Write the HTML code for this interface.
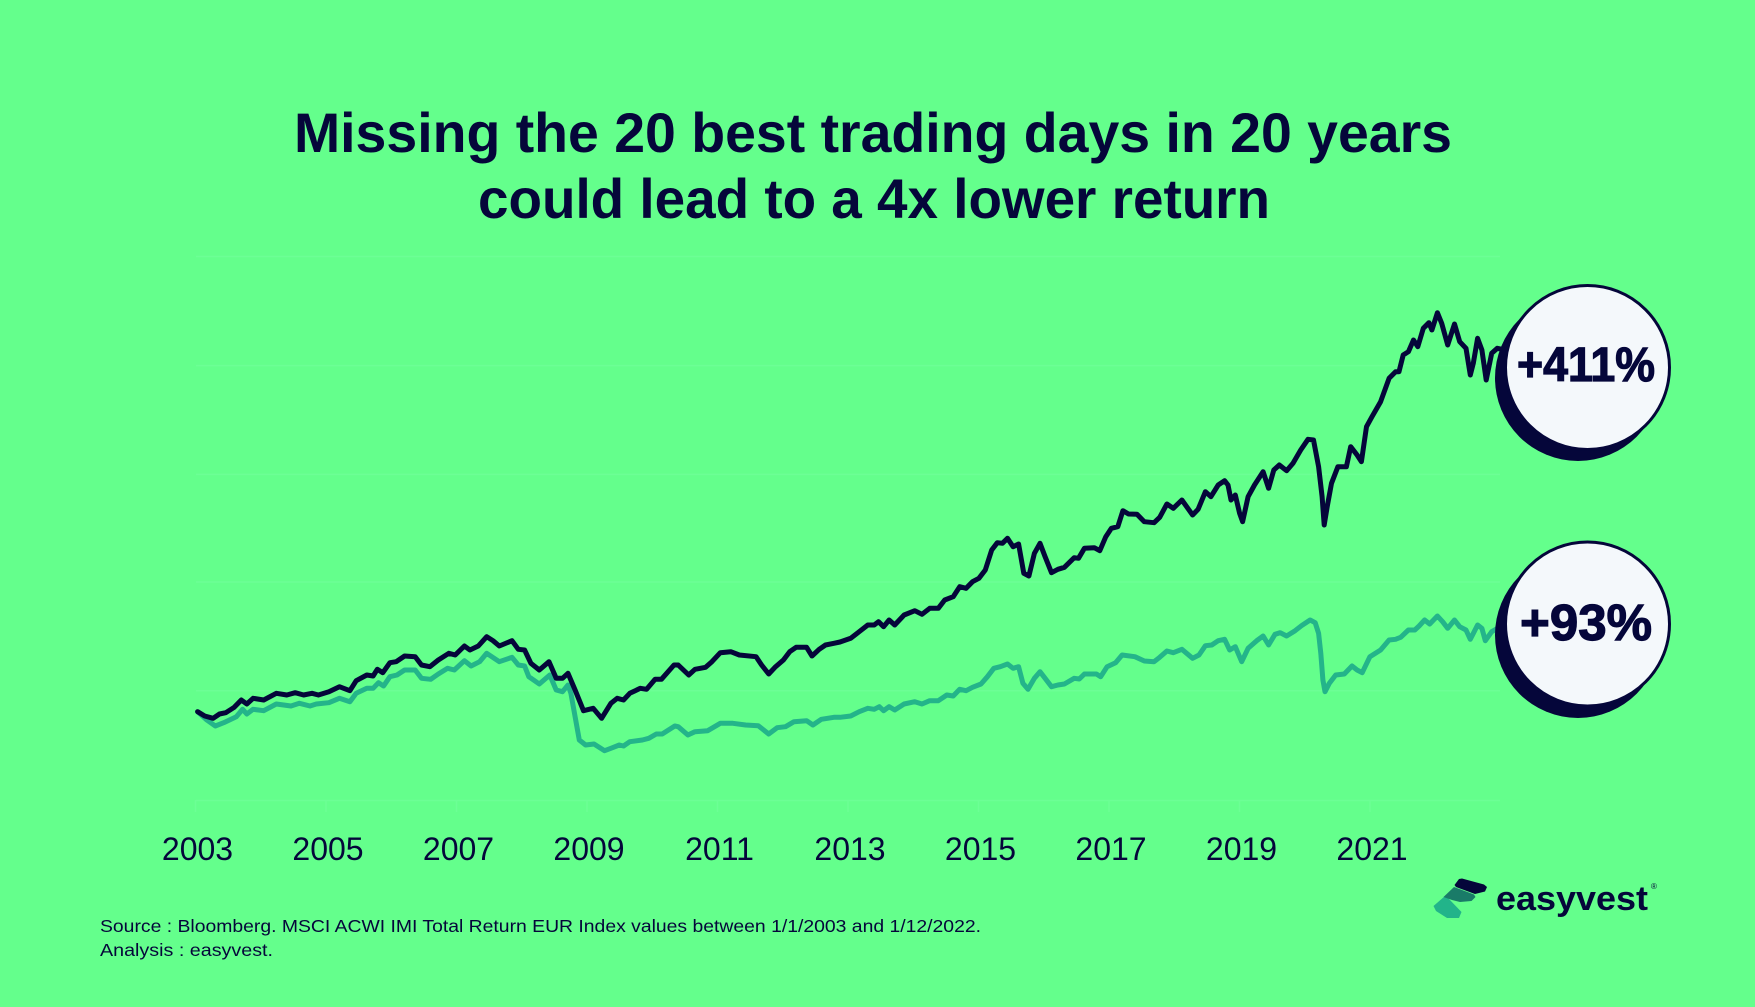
<!DOCTYPE html>
<html>
<head>
<meta charset="utf-8">
<style>
html,body{margin:0;padding:0;background:#64ff8c;}
svg{display:block;}
</style>
</head>
<body>
<svg width="1755" height="1007" viewBox="0 0 1755 1007" xmlns="http://www.w3.org/2000/svg">
<rect x="0" y="0" width="1755" height="1007" fill="#64ff8c"/>

<!-- Title -->
<g font-family="Liberation Sans, Arial, sans-serif" font-weight="bold" fill="#05063a">
<text x="294" y="152" font-size="56" textLength="1158" lengthAdjust="spacingAndGlyphs">Missing the 20 best trading days in 20 years</text>
<text x="478" y="218" font-size="56" textLength="792" lengthAdjust="spacingAndGlyphs">could lead to a 4x lower return</text>
</g>

<!-- Gridlines -->
<g stroke="#6cff95" stroke-width="1.5" fill="none">
<line x1="196" y1="256.5" x2="1500" y2="256.5"/>
<line x1="196" y1="365.6" x2="1500" y2="365.6"/>
<line x1="196" y1="474.4" x2="1500" y2="474.4"/>
<line x1="196" y1="582" x2="1500" y2="582"/>
<line x1="196" y1="690.7" x2="1500" y2="690.7"/>
<line x1="196" y1="800.5" x2="1500" y2="800.5"/>
<line x1="195.5" y1="800" x2="195.5" y2="812"/>
<line x1="326" y1="800" x2="326" y2="812"/>
<line x1="456.5" y1="800" x2="456.5" y2="812"/>
<line x1="587" y1="800" x2="587" y2="812"/>
<line x1="717.5" y1="800" x2="717.5" y2="812"/>
<line x1="848" y1="800" x2="848" y2="812"/>
<line x1="978.5" y1="800" x2="978.5" y2="812"/>
<line x1="1109" y1="800" x2="1109" y2="812"/>
<line x1="1239.5" y1="800" x2="1239.5" y2="812"/>
<line x1="1370" y1="800" x2="1370" y2="812"/>
</g>

<!-- X labels -->
<g font-family="Liberation Sans, Arial, sans-serif" font-size="32" fill="#05063a" text-anchor="middle">
<text x="197.5" y="860">2003</text>
<text x="328" y="860">2005</text>
<text x="458.5" y="860">2007</text>
<text x="589" y="860">2009</text>
<text x="719.5" y="860">2011</text>
<text x="850" y="860">2013</text>
<text x="980.5" y="860">2015</text>
<text x="1111" y="860">2017</text>
<text x="1241.5" y="860">2019</text>
<text x="1372" y="860">2021</text>
</g>

<!-- Teal series -->
<polyline fill="none" stroke="#24b48a" stroke-width="5" stroke-linejoin="round" stroke-linecap="round" points="197.6,711.7 206.8,720 215.3,726 223.7,722.7 236.3,716.7 242.6,709.3 246.8,714 253.1,709.3 263.7,710.7 276.3,704 291,706 299.4,703.3 310,706 316.3,704 328.9,702.7 339.4,698.3 349.9,701.7 356.2,693.3 366.8,688.3 373.1,688.3 378.5,682.7 383.6,686 389.9,676.7 397,675 404.6,670 415.2,670 421.5,678.3 430.7,679.3 438.3,674 447.6,668.3 454.3,670 464.4,660.7 471.1,666 479.6,661.7 486.7,653.3 499.3,661.7 512,657.3 518.3,665 524.6,666 528.8,676.7 539.3,684 549.8,675 556.2,690 562.5,691.7 568,685 570.9,693.3 575.1,716.7 579.3,740 585.6,745 594,744 604.6,750.7 610.9,748.3 619.3,745 623.5,746 629.8,741.7 642.4,740 648.8,738.3 656.3,734 662.2,734 674.8,726 678.2,726.7 687.9,735 695,731.7 707.7,730.7 720.3,723.3 732.9,723.3 745.6,725 758.2,725.7 768.7,734 777.1,727.7 785.5,726.7 794,721.7 806.6,720.7 812.9,725 821.3,719.3 833.9,717.3 840,717.3 850.7,716 859.2,711.7 867.8,708.3 874.2,709.3 879.3,706.7 883.6,710.7 889.1,706.7 894.7,710 904.1,704 914.8,701.7 922,704 929.7,700.7 938.3,700.7 946.8,695 953.2,696 959.7,689.3 966.1,690.7 972.5,687.3 981,684 987.4,676.7 993.8,668.3 1000.3,666.7 1007.5,664 1013.1,668.3 1018.6,666.7 1022.9,683.3 1028,689.3 1034.4,678.3 1040,671.7 1045.1,678.3 1051.5,686.7 1057.9,685 1064.4,684 1074.2,678.3 1079.3,679 1084.4,674 1096.4,674 1100.7,676.7 1107.1,666.7 1115.6,662.7 1122.1,655 1134.9,656.7 1144.3,661 1154.1,661.7 1159.7,657.3 1166.9,651 1173.3,652.7 1181.9,649.3 1192.6,658.3 1199,655 1205.4,645.7 1211.8,645 1218.2,640.7 1224.6,639.3 1229.7,650 1235.3,646.7 1241.7,661.7 1248.1,648.3 1256.7,640.7 1263.1,636 1268.6,645 1275,634.3 1280.2,632.7 1286.6,636 1295.1,630.7 1301.5,625.7 1310.1,620 1315.2,622.7 1318.6,633.3 1320.8,653.3 1322.9,680 1325,691.7 1329.3,683.3 1335.7,675 1344.3,674 1352,666 1357.1,670 1362.2,672.7 1369.9,656.7 1380.6,650 1389.1,640 1395.6,639.3 1400.7,637.3 1408.4,630 1414.8,630 1419.1,626 1424.6,620 1429.7,624 1437.4,616 1442.6,621.7 1447.7,628.3 1454.5,620 1459.7,626.7 1466,630 1470.3,639.3 1477.6,625 1481.9,628.3 1485.3,640.7 1491.7,631.7 1498.1,628 1505,628"/>

<!-- Dark series -->
<polyline fill="none" stroke="#05063a" stroke-width="5" stroke-linejoin="round" stroke-linecap="round" points="197.6,711.7 204.7,716 213.1,718.3 219.5,714 225.8,712.7 234.2,707.3 241.3,700 246.8,704 253.1,698.3 263.7,700 276.3,693.3 286.8,695 295.2,692.7 303.6,695 312,693.3 318.4,695 328.9,691.7 339.4,686.7 349.9,690.7 356.2,680.7 366.8,675 373.1,676 377.3,669.3 382.8,672.7 389.9,662.7 396.2,661.7 404.6,656 415.2,656.7 421.5,665 429.9,666.7 438.3,660 448.8,653.3 455.2,655 464.4,646 469.9,650 478.3,646 486.7,636.7 493,640.7 499.3,646 512,640.7 518.3,649.3 524.6,650 530.9,663.3 539.3,670 549,661.7 556.2,678.3 562.5,678.3 568,673.3 575.1,690 583.5,710.7 593.2,708.3 601.6,718.3 610.9,703.3 617.2,698.3 623.5,700 629.8,693.3 640.3,688.3 646.6,689.3 655.1,679.3 661.4,679.3 674,665 678.2,665 688.7,675 695,669.3 705.6,667.3 711.9,661.7 720.3,652.7 730.8,651.7 739.3,655 756.1,656.7 761.6,665 768.7,674 775,667.3 783.4,660 789.7,651.7 796.1,647.3 806.6,647.3 812,656 819.2,649.3 825.5,645 833.9,643.3 840,642 850.7,638.3 859.2,631.7 867.8,625 874.2,625 878.5,621.7 883.6,626.7 889.1,620 894.7,625 904.1,615 914.8,610.7 922,614.3 929.7,608.3 938.3,608.3 944.7,600 953.2,596.7 959.7,586.7 966.1,588.3 972.5,581.7 978.9,578.3 985.3,570 991.7,550 997.3,542.7 1002.4,543.3 1007.5,538.3 1013.1,546.7 1018.6,544 1023.8,573.3 1028.9,576 1034.4,553.3 1040,543.3 1045.1,556.7 1051.5,572.7 1057.9,569.3 1064.4,567.3 1074.2,557.7 1078.5,558.3 1084.4,548.3 1094.3,547.7 1099.8,550.7 1105.8,536.7 1111.4,528.3 1117.8,526.7 1122.9,510.7 1128.5,514 1137,514.3 1144.3,521.7 1154.1,522.7 1159.7,517.3 1166.9,504 1173.3,508.3 1181.9,500 1192.6,515 1198.1,509.3 1205.4,491.7 1210.9,496.7 1218.2,485 1224.6,480.7 1228,485 1231,500 1235.3,495 1239.6,513.3 1242.6,521.7 1248.1,496.7 1254.5,485 1263.1,471.7 1268.6,488.3 1273.8,470 1279.3,465 1286.6,470.7 1293,463.3 1300.7,450 1308,439.3 1313.5,440 1318.6,466.7 1322.1,496.7 1324.2,525 1327.2,506.7 1331.5,483.3 1337.9,466.7 1346.4,466.7 1350.7,446.7 1357.1,455 1361.4,461.7 1366.5,426.7 1372,416.7 1380.6,401.7 1389.1,378.3 1395.6,371.7 1399,371.7 1403.2,355 1408.4,351.7 1413.5,340 1417.8,346.7 1423.3,328.3 1428.9,322.7 1431.9,330 1437.4,312.7 1441.7,323.3 1447.7,345 1454.5,324 1459.7,341.7 1466,348.3 1470.3,375 1473.3,363.3 1477.6,338.3 1481.9,350 1486.2,380 1491.7,353.3 1497.3,348.3 1505,350"/>

<!-- Badges -->
<circle cx="1578" cy="378" r="83" fill="#05063a"/>
<circle cx="1587.5" cy="367.5" r="82" fill="#f4f8fb" stroke="#05063a" stroke-width="3"/>
<circle cx="1578" cy="635" r="83" fill="#05063a"/>
<circle cx="1587.5" cy="624" r="82" fill="#f4f8fb" stroke="#05063a" stroke-width="3"/>
<g font-family="Liberation Sans, Arial, sans-serif" font-weight="bold" fill="#05063a" stroke="#05063a" stroke-width="1.2">
<text x="1517" y="381" font-size="48" textLength="138" lengthAdjust="spacingAndGlyphs">+411%</text>
<text x="1520" y="640" font-size="51" textLength="132" lengthAdjust="spacingAndGlyphs">+93%</text>
</g>

<!-- Logo -->
<g>
<polygon points="1433.5,906 1445,896 1449,899 1461.5,912 1459,918 1447,918 1436,911" fill="#22b48a"/>
<polygon points="1443.5,897 1454,887 1474,894.5 1475.5,897 1471.5,901 1460,902 1452,900" fill="#1a7b68"/>
<polygon points="1454.5,885 1459,879 1462,878.5 1484,884.5 1487,887 1485,891.5 1475,894 1456,887" fill="#05063a"/>
</g>
<text x="1496" y="910" font-family="Liberation Sans, Arial, sans-serif" font-weight="bold" font-size="34" fill="#05063a" textLength="152" lengthAdjust="spacingAndGlyphs">easyvest</text>
<text x="1651" y="889" font-family="Liberation Sans, Arial, sans-serif" font-size="8" fill="#05063a">®</text>

<!-- Footer -->
<g font-family="Liberation Sans, Arial, sans-serif" font-size="17.5" fill="#05063a">
<text x="100" y="932" textLength="881" lengthAdjust="spacingAndGlyphs">Source : Bloomberg. MSCI ACWI IMI Total Return EUR Index values between 1/1/2003 and 1/12/2022.</text>
<text x="100" y="956" textLength="173" lengthAdjust="spacingAndGlyphs">Analysis : easyvest.</text>
</g>
</svg>
</body>
</html>
